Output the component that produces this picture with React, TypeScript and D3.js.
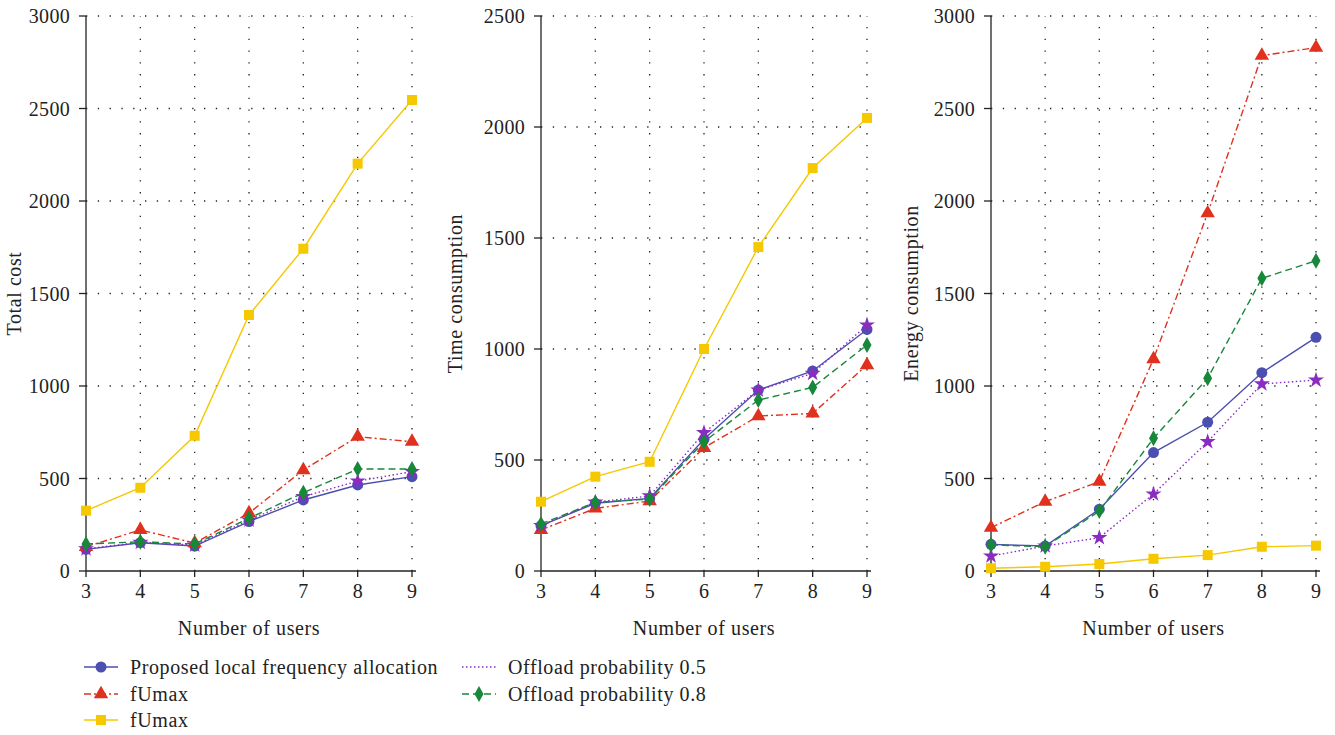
import React from "react";
import * as d3 from "d3";

const users = [3, 4, 5, 6, 7, 8, 9];

// Total cost
const costProposed = [117, 153, 135, 267, 384, 465, 510];
const costFUmaxRed = [131, 222, 151, 313, 546, 726, 699];
const costFUmaxYellow = [326, 450, 731, 1384, 1742, 2202, 2546];
const costOffload05 = [120, 155, 140, 275, 402, 486, 537];
const costOffload08 = [146, 158, 146, 285, 423, 551, 551];

// Time consumption
const timeProposed = [204, 305, 327, 593, 815, 901, 1088];
const timeFUmaxRed = [185, 282, 315, 555, 698, 710, 928];
const timeFUmaxYellow = [312, 425, 492, 1000, 1459, 1815, 2041];
const timeOffload05 = [205, 310, 338, 623, 815, 890, 1108];
const timeOffload08 = [212, 309, 324, 582, 770, 827, 1018];

// Energy consumption
const energyProposed = [144, 135, 334, 640, 804, 1072, 1263];
const energyFUmaxRed = [234, 375, 483, 1146, 1934, 2786, 2829];
const energyFUmaxYellow = [15, 23, 38, 66, 86, 131, 137];
const energyOffload05 = [81, 135, 180, 416, 699, 1011, 1032];
const energyOffload08 = [141, 131, 324, 717, 1042, 1582, 1677];

const costTicks = [0, 500, 1000, 1500, 2000, 2500, 3000];
const timeTicks = [0, 500, 1000, 1500, 2000, 2500];
const energyTicks = [0, 500, 1000, 1500, 2000, 2500, 3000];

const seriesNames = [
  "Proposed local frequency allocation",
  "fUmax",
  "fUmax",
  "Offload probability 0.5",
  "Offload probability 0.8",
];

type Style = { color: string; dash: string; marker: string };
const styles: Style[] = [
  { color: "#4a4fb0", dash: "", marker: "circle" },
  { color: "#e0301e", dash: "7,3,2,3", marker: "triangle" },
  { color: "#f5c800", dash: "", marker: "square" },
  { color: "#8a2cbf", dash: "1.5,2.5", marker: "star" },
  { color: "#17873a", dash: "7,4", marker: "diamond" },
];

const FONT = "'Liberation Serif', 'DejaVu Serif', serif";
const FS = 20;
const LS = 0.6;

function Marker({ kind, x, y, color }: { kind: string; x: number; y: number; color: string }) {
  if (kind === "circle") return <circle cx={x} cy={y} r={5.5} fill={color} />;
  if (kind === "square") return <rect x={x - 5} y={y - 5} width={10} height={10} fill={color} />;
  if (kind === "triangle") {
    const p = d3.symbol(d3.symbolTriangle, 90)();
    return <path d={p || ""} transform={`translate(${x},${y})`} fill={color} />;
  }
  if (kind === "star") {
    const p = d3.symbol(d3.symbolStar, 80)();
    return <path d={p || ""} transform={`translate(${x},${y})`} fill={color} />;
  }
  return <path d={`M${x},${y - 8}L${x + 4.5},${y}L${x},${y + 8}L${x - 4.5},${y}Z`} fill={color} />;
}

type PanelProps = {
  left: number;
  right: number;
  yMax: number;
  ticks: number[];
  label: string;
  labelX: number;
  data: number[][];
};

const TOP = 16;
const BOTTOM = 571;

function Panel({ left, right, yMax, ticks, label, labelX, data }: PanelProps) {
  const x = d3.scaleLinear().domain([3, 9]).range([left, right]);
  const y = d3.scaleLinear().domain([0, yMax]).range([BOTTOM, TOP]);
  const line = d3
    .line<number>()
    .x((_, i) => x(users[i]))
    .y((d) => y(d));
  const order = [0, 1, 2, 3, 4];
  return (
    <g>
      {users.slice(1).map((u) => (
        <line key={"gv" + u} x1={x(u)} x2={x(u)} y1={BOTTOM} y2={TOP} stroke="#222" strokeWidth={1.3} strokeDasharray="1.3,10.5" />
      ))}
      {ticks.slice(1).map((t) => (
        <line key={"gh" + t} x1={left} x2={right} y1={y(t)} y2={y(t)} stroke="#222" strokeWidth={1.3} strokeDasharray="1.3,10.5" />
      ))}
      <line x1={left} x2={left} y1={BOTTOM} y2={TOP} stroke="#222" strokeWidth={1.3} />
      <line x1={left} x2={right + 4} y1={BOTTOM} y2={BOTTOM} stroke="#222" strokeWidth={1.3} />
      {ticks.map((t) => (
        <g key={"yt" + t}>
          <line x1={left - 7} x2={left} y1={y(t)} y2={y(t)} stroke="#222" strokeWidth={1.3} />
          <text x={left - 16} y={y(t)} dy="0.35em" textAnchor="end" fontSize={FS} letterSpacing={0.3} fontFamily={FONT} fill="#222">
            {t}
          </text>
        </g>
      ))}
      {users.map((u) => (
        <g key={"xt" + u}>
          <line x1={x(u)} x2={x(u)} y1={BOTTOM} y2={BOTTOM + 6} stroke="#222" strokeWidth={1.3} />
          <text x={x(u)} y={BOTTOM + 27} textAnchor="middle" fontSize={FS} fontFamily={FONT} fill="#222">
            {u}
          </text>
        </g>
      ))}
      <text x={(left + right) / 2} y={635} textAnchor="middle" fontSize={FS} letterSpacing={LS} fontFamily={FONT} fill="#222">
        Number of users
      </text>
      <text
        transform={`translate(${labelX},${(TOP + BOTTOM) / 2}) rotate(-90)`}
        textAnchor="middle"
        fontSize={FS}
        letterSpacing={LS}
        fontFamily={FONT}
        fill="#222"
      >
        {label}
      </text>
      {order.map((si) => (
        <g key={"s" + si}>
          <path d={line(data[si]) || ""} fill="none" stroke={styles[si].color} strokeWidth={1.4} strokeDasharray={styles[si].dash} />
          {data[si].map((v, i) => (
            <Marker key={i} kind={styles[si].marker} x={x(users[i])} y={y(v)} color={styles[si].color} />
          ))}
        </g>
      ))}
    </g>
  );
}

function Legend() {
  const items = [
    { si: 0, x: 84, y: 667 },
    { si: 1, x: 84, y: 694 },
    { si: 2, x: 84, y: 720 },
    { si: 3, x: 462, y: 667 },
    { si: 4, x: 462, y: 694 },
  ];
  return (
    <g>
      {items.map(({ si, x, y }) => (
        <g key={si}>
          <line x1={x} x2={x + 34} y1={y} y2={y} stroke={styles[si].color} strokeWidth={1.4} strokeDasharray={styles[si].dash} />
          {si !== 3 && <Marker kind={styles[si].marker} x={x + 17} y={y} color={styles[si].color} />}
          <text x={x + 46} y={y} dy="0.35em" fontSize={FS} letterSpacing={LS} fontFamily={FONT} fill="#222">
            {seriesNames[si]}
          </text>
        </g>
      ))}
    </g>
  );
}

export default function App() {
  return (
    <svg width={1335} height={735} style={{ position: "absolute", left: 0, top: 0, background: "#fff" }}>
      <rect width={1335} height={735} fill="#fff" />
      <Panel
        left={86}
        right={412}
        yMax={3000}
        ticks={costTicks}
        label="Total cost"
        labelX={21}
        data={[costProposed, costFUmaxRed, costFUmaxYellow, costOffload05, costOffload08]}
      />
      <Panel
        left={541}
        right={867}
        yMax={2500}
        ticks={timeTicks}
        label="Time consumption"
        labelX={462}
        data={[timeProposed, timeFUmaxRed, timeFUmaxYellow, timeOffload05, timeOffload08]}
      />
      <Panel
        left={991}
        right={1316}
        yMax={3000}
        ticks={energyTicks}
        label="Energy consumption"
        labelX={918}
        data={[energyProposed, energyFUmaxRed, energyFUmaxYellow, energyOffload05, energyOffload08]}
      />
      <Legend />
    </svg>
  );
}
